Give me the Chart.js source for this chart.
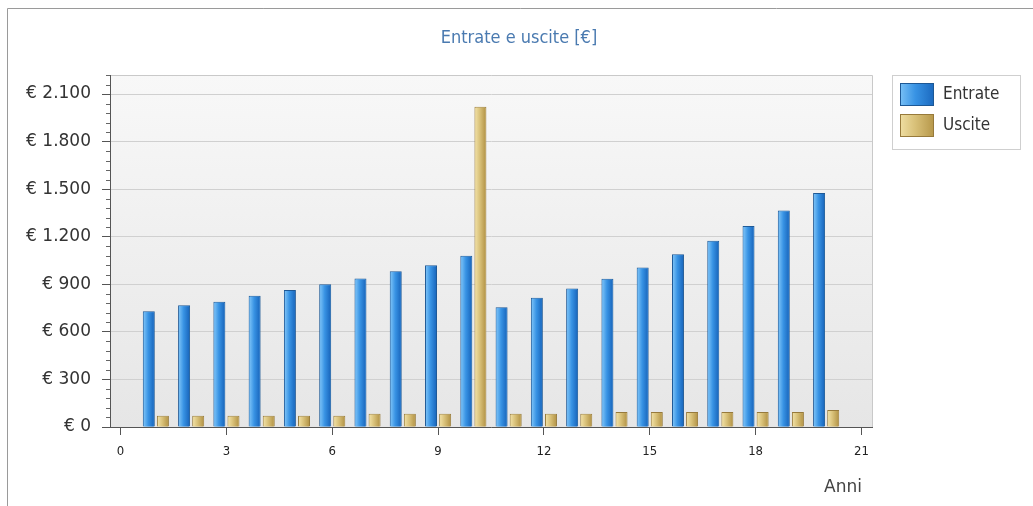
<!DOCTYPE html>
<html lang="it">
<head>
<meta charset="utf-8">
<title>Entrate e uscite</title>
<script src="https://cdn.jsdelivr.net/npm/chart.js@4.4.1/dist/chart.umd.min.js"></script>
<style>
  html, body { margin: 0; padding: 0; background: #fff; }
  .wrap { position: relative; width: 1033px; height: 506px; }
</style>
</head>
<body>
<div class="wrap"><canvas id="chart" width="1033" height="506"></canvas></div>
<script>
const years = [1, 2, 3, 4, 5, 6, 7, 8, 9, 10, 11, 12, 13, 14, 15, 16, 17, 18, 19, 20];
const entrate = [730, 768, 790, 828, 864, 900, 936, 983, 1020, 1080, 756, 815, 874, 935, 1006, 1090, 1174, 1268, 1365, 1476];
const uscite = [71, 71, 71, 71, 71, 71, 84, 84, 84, 2020, 84, 84, 84, 94, 94, 94, 94, 94, 94, 107];
const seriesNames = ["Entrate", "Uscite"];
const chartTitle = "Entrate e uscite [€]";
const xTitle = "Anni";

const COND = "'DejaVu Sans Condensed', 'DejaVu Sans', sans-serif";
const SANS = "'DejaVu Sans', sans-serif";
const colors = {
  blue: { fill: "#3893e4", light: "#78c0f6", dark: "#1b69bf", border: "#1d5895" },
  gold: { fill: "#d8c078", light: "#efdea2", dark: "#b6974a", border: "#977a3b" }
};

const euro = (v) => "€ " + String(v).replace(/\B(?=(\d{3})+(?!\d))/g, ".");
const points = (vals) => vals.map((v, i) => ({ x: years[i], y: v }));

function barGradient(ctx, x0, x1, c) {
  const g = ctx.createLinearGradient(x0, 0, x1, 0);
  g.addColorStop(0, c.light);
  g.addColorStop(0.45, c.fill);
  g.addColorStop(1, c.dark);
  return g;
}

// background, plot area, outer frame, titles, bar shading, legend
const decor = {
  id: "decor",
  beforeDraw(chart) {
    const { ctx, chartArea: a } = chart;
    ctx.save();
    ctx.fillStyle = "#fff";
    ctx.fillRect(0, 0, chart.width, chart.height);
    const g = ctx.createLinearGradient(0, a.top, 0, a.bottom);
    g.addColorStop(0, "#f8f8f8");
    g.addColorStop(1, "#e6e6e6");
    ctx.fillStyle = g;
    ctx.fillRect(a.left, a.top, a.right - a.left, a.bottom - a.top);
    ctx.strokeStyle = "#c9c9c9";
    ctx.lineWidth = 1;
    ctx.beginPath();
    ctx.moveTo(a.left, a.top + 0.5);
    ctx.lineTo(a.right + 0.5, a.top + 0.5);
    ctx.lineTo(a.right + 0.5, a.bottom);
    ctx.stroke();
    ctx.strokeStyle = "#9a9a9a";
    ctx.beginPath();
    ctx.moveTo(7.5, chart.height);
    ctx.lineTo(7.5, 8.5);
    ctx.lineTo(chart.width, 8.5);
    ctx.stroke();
    // titles
    ctx.textBaseline = "middle";
    ctx.textAlign = "center";
    ctx.fillStyle = "#4a7ab0";
    ctx.font = "18px " + COND;
    ctx.fillText(chartTitle, 519, 38);
    ctx.textAlign = "right";
    ctx.fillStyle = "#444";
    ctx.font = "17px " + SANS;
    ctx.fillText(xTitle, 862, 488);
    ctx.restore();
  },
  afterDatasetsDraw(chart) {
    const { ctx } = chart;
    ctx.save();
    chart.data.datasets.forEach((ds, i) => {
      const c = i === 0 ? colors.blue : colors.gold;
      chart.getDatasetMeta(i).data.forEach((bar) => {
        const x0 = bar.x - bar.width / 2 + 1;
        const x1 = bar.x + bar.width / 2 - 1;
        ctx.fillStyle = barGradient(ctx, x0, x1, c);
        ctx.fillRect(x0, bar.y + 1, x1 - x0, bar.base - bar.y - 1);
      });
    });
    ctx.restore();
  },
  afterDraw(chart) {
    const { ctx, chartArea: a } = chart;
    const y = chart.scales.y;
    ctx.save();
    // minor ticks
    ctx.strokeStyle = "#666";
    ctx.lineWidth = 1;
    ctx.beginPath();
    for (let v = 60; v <= y.max; v += 60) {
      if (v % 300 === 0) continue;
      const py = Math.round(y.getPixelForValue(v)) + 0.5;
      ctx.moveTo(a.left - 4, py);
      ctx.lineTo(a.left, py);
    }
    ctx.stroke();
    // legend
    const lx = 892, ly = 75, lw = 128, lh = 74;
    ctx.fillStyle = "#fff";
    ctx.fillRect(lx, ly, lw, lh);
    ctx.strokeStyle = "#cfcfcf";
    ctx.strokeRect(lx + 0.5, ly + 0.5, lw, lh);
    ctx.font = "17px " + COND;
    ctx.textBaseline = "middle";
    [colors.blue, colors.gold].forEach((c, i) => {
      const sy = 83 + i * 31;
      ctx.fillStyle = barGradient(ctx, 900, 934, c);
      ctx.fillRect(900, sy, 34, 23);
      ctx.strokeStyle = c.border;
      ctx.strokeRect(900.5, sy + 0.5, 33, 22);
      ctx.fillStyle = "#333";
      ctx.fillText(seriesNames[i], 943, sy + 12);
    });
    ctx.restore();
  }
};

new Chart(document.getElementById("chart"), {
  type: "bar",
  data: {
    datasets: [
      { label: seriesNames[0], data: points(entrate), backgroundColor: colors.blue.fill, borderColor: colors.blue.border, borderWidth: 1 },
      { label: seriesNames[1], data: points(uscite), backgroundColor: colors.gold.fill, borderColor: colors.gold.border, borderWidth: 1 }
    ]
  },
  options: {
    responsive: false,
    animation: false,
    categoryPercentage: 0.8,
    barPercentage: 0.85,
    layout: { padding: { top: 75, right: 161, bottom: 0, left: 7 } },
    plugins: {
      legend: { display: false },
      tooltip: { enabled: false },
      title: { display: false }
    },
    scales: {
      x: {
        type: "linear",
        min: -0.3,
        max: 21.3,
        offset: false,
        afterFit: (scale) => { scale.height = 79; },
        border: { color: "#555", width: 1 },
        grid: { offset: false, drawOnChartArea: false, drawTicks: true, tickLength: 8, tickColor: "#555" },
        ticks: { stepSize: 3, includeBounds: false, color: "#222", padding: 9, font: { family: COND, size: 13 } }
      },
      y: {
        min: 0,
        max: 2220,
        afterFit: (scale) => { scale.width = 103; },
        border: { color: "#555", width: 1 },
        grid: { color: "#d0d0d0", tickLength: 8, tickColor: "#555" },
        ticks: { stepSize: 300, includeBounds: false, color: "#333", padding: 11, callback: (v) => euro(v), font: { family: SANS, size: 17 } }
      }
    }
  },
  plugins: [decor]
});
</script>
</body>
</html>
